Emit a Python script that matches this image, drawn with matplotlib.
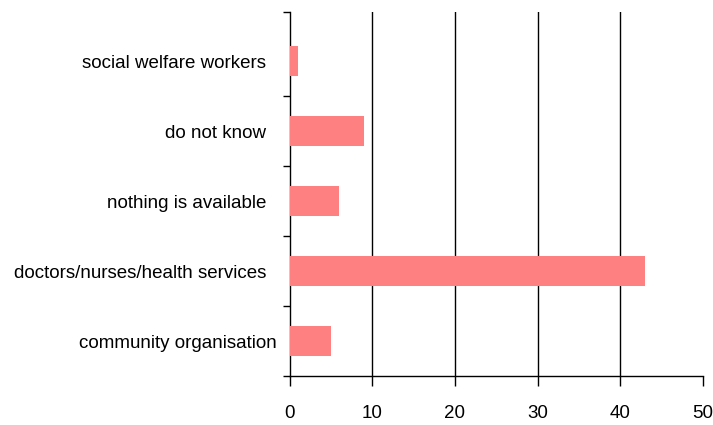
import matplotlib.pyplot as plt
import numpy as np

plt.rcParams['font.family'] = ['Liberation Sans', 'DejaVu Sans']

# data, bottom to top
categories = ['community organisation', 'doctors/nurses/health services  ',
              'nothing is available  ', 'do not know  ', 'social welfare workers  ']
values = [5, 43, 6, 9, 1]
xticks = [0, 10, 20, 30, 40, 50]

fig = plt.figure(figsize=(7.13, 4.25), dpi=100)
ax = fig.add_axes([0.4063, 0.1146, 0.9856 - 0.4063, 0.9725 - 0.1146])

y = np.arange(len(categories))
ax.barh(y, values, height=0.43, color='#ff8080', zorder=3)

ax.set_xlim(0, 50)
top = 4.71
ax.set_ylim(-0.5, top)

# vertical grid lines at 10..40
for xv in xticks[1:-1]:
    ax.axvline(xv, color='black', lw=1, zorder=1)

ax.spines['top'].set_visible(False)
ax.spines['right'].set_visible(False)
ax.spines['left'].set_linewidth(1)
ax.spines['bottom'].set_linewidth(1)

ax.set_xticks(xticks)
ax.set_xticklabels([str(v) for v in xticks], fontsize=13.5)
ax.tick_params(axis='x', length=7.5, width=1, pad=13)

ax.set_yticks(y)
ax.set_yticklabels(categories, fontsize=13.5)
ax.set_yticks(list(np.arange(-0.5, 4.0, 1.0)) + [top], minor=True)
ax.tick_params(axis='y', which='major', length=0, pad=9.5)
ax.tick_params(axis='y', which='minor', length=4.8, width=1)

plt.savefig('out.png', dpi=100)
